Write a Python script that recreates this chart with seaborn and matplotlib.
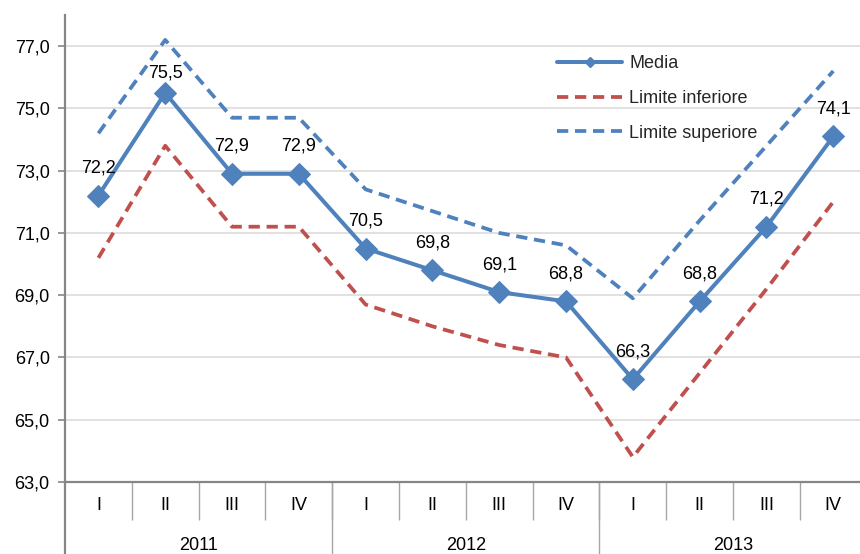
import numpy as np
import pandas as pd
import seaborn as sns
import matplotlib.pyplot as plt
from matplotlib.ticker import FuncFormatter
from matplotlib.lines import Line2D

# --- dati ---
anni = ['2011', '2012', '2013']
trimestri = ['I', 'II', 'III', 'IV']
media = [72.2, 75.5, 72.9, 72.9, 70.5, 69.8, 69.1, 68.8, 66.3, 68.8, 71.2, 74.1]
limite_inf = [70.2, 73.8, 71.2, 71.2, 68.7, 68.0, 67.4, 67.0, 63.8, 66.5, 69.2, 72.0]
limite_sup = [74.2, 77.2, 74.7, 74.7, 72.4, 71.7, 71.0, 70.6, 68.9, 71.4, 73.8, 76.2]

periodi = [f"{a}-{t}" for a in anni for t in trimestri]
df = pd.DataFrame({'pos': np.arange(len(periodi)), 'periodo': periodi,
                   'Media': media, 'Limite inferiore': limite_inf,
                   'Limite superiore': limite_sup})

BLU = '#4F81BD'
ROSSO = '#C0504D'
GRIGIO = '#868686'
TRATTO = (0, (3, 1.8))

sns.set_theme(style='white')
plt.rcParams['font.family'] = ['Liberation Sans', 'DejaVu Sans']
FS = 13

fig = plt.figure(figsize=(8.6, 5.54), dpi=100)
ax = fig.add_axes([65 / 860, 72 / 554, 795 / 860, 467 / 554])

sns.lineplot(data=df, x='pos', y='Limite superiore', ax=ax, color=BLU,
             linewidth=2.7, linestyle=TRATTO)
sns.lineplot(data=df, x='pos', y='Limite inferiore', ax=ax, color=ROSSO,
             linewidth=2.7, linestyle=TRATTO)
sns.lineplot(data=df, x='pos', y='Media', ax=ax, color=BLU, linewidth=2.9,
             marker='D', markersize=11, markeredgecolor=BLU)

# etichette dei valori (la seconda è più vicina al punto, come nell'originale)
for i, (x, v) in enumerate(zip(df['pos'], media)):
    dy = 11 if i == 1 else 16.5
    ax.annotate(f"{v:.1f}".replace('.', ','), (x, v), xytext=(0, dy),
                textcoords='offset points', ha='center', va='baseline',
                fontsize=FS, color='black')

ax.set_ylim(63, 78)
ax.set_xlim(-0.5, 11.4)
ax.set_yticks(np.arange(63, 78, 2))
ax.yaxis.set_major_formatter(FuncFormatter(lambda v, p: f"{v:.1f}".replace('.', ',')))
ax.grid(axis='y', color='#D9D9D9', linewidth=1.1)
ax.set_axisbelow(True)

for side in ['top', 'right']:
    ax.spines[side].set_visible(False)
for side in ['left', 'bottom']:
    ax.spines[side].set_color(GRIGIO)
    ax.spines[side].set_linewidth(1.6)

ax.tick_params(axis='y', which='major', left=True, length=5, width=1.2,
               color=GRIGIO, labelsize=FS, pad=6, labelcolor='black')

# asse x a due livelli: trimestri e anni
ax.set_xticks(df['pos'])
ax.set_xticklabels(trimestri * len(anni))
ax.tick_params(axis='x', which='major', length=0, pad=11, labelsize=FS,
               labelcolor='black')
ax.set_xticks(np.arange(0.5, 11, 1), minor=True)
ax.tick_params(axis='x', which='minor', bottom=True, length=27, width=1,
               color='#A6A6A6', direction='out')
ax.set_xlabel('')
ax.set_ylabel('')

trans = ax.get_xaxis_transform()
for xd in [-0.5, 3.5, 7.5]:
    ax.plot([xd, xd], [0, -0.2], transform=trans, color=GRIGIO if xd < 0 else '#A6A6A6',
            linewidth=1.6 if xd < 0 else 1, clip_on=False)
for i, a in enumerate(anni):
    ax.text(i * 4 + 1.5, -0.135, a, transform=trans, ha='center', va='center',
            fontsize=FS, color='black')

handles = [
    Line2D([], [], color=BLU, linewidth=2.9, marker='D', markersize=5),
    Line2D([], [], color=ROSSO, linewidth=2.7, linestyle=TRATTO),
    Line2D([], [], color=BLU, linewidth=2.7, linestyle=TRATTO),
]
ax.legend(handles, ['Media', 'Limite inferiore', 'Limite superiore'],
          loc='upper left', bbox_to_anchor=(541 / 860, 1 - 39 / 554),
          bbox_transform=fig.transFigure, frameon=False, fontsize=FS,
          handlelength=3.6, labelspacing=0.98, handletextpad=0.4)

fig.savefig('out.png', dpi=100)
